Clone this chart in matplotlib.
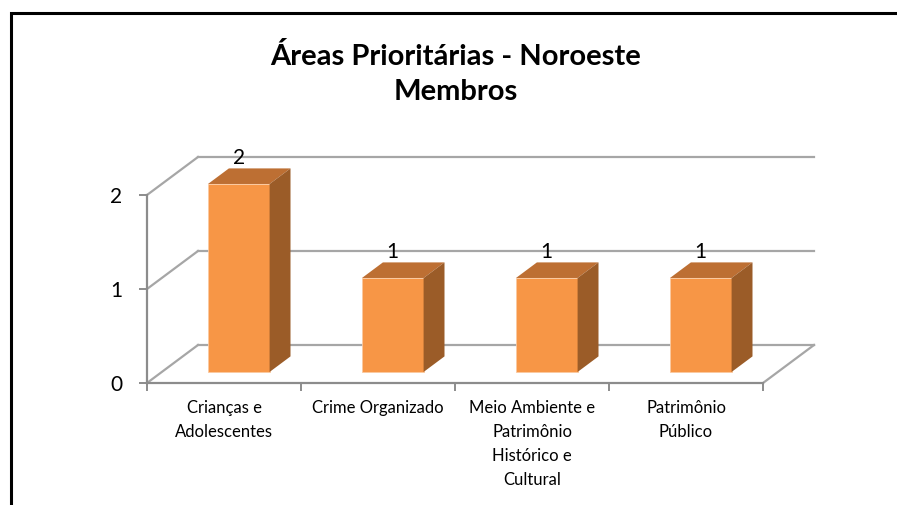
import matplotlib
matplotlib.use("Agg")
import matplotlib.pyplot as plt
from matplotlib.patches import Polygon
from matplotlib.lines import Line2D

# ---- data ----
categories = ["Crianças e\nAdolescentes", "Crime Organizado",
              "Meio Ambiente e\nPatrimônio\nHistórico e\nCultural", "Patrimônio\nPúblico"]
values = [2, 1, 1, 1]
y_ticks = [0, 1, 2]
title = "Áreas Prioritárias - Noroeste\nMembros"

# ---- layout ----
W, H = 897, 505
X0PX, PX_PER_CAT = 147, 154
Y0PX, PX_PER_VAL = 383, 94
DX = 51 / PX_PER_CAT        # full depth, category units
DY = 38 / PX_PER_VAL        # full depth, value units
D0, DD = 0.29, 0.41          # bar front depth fraction, bar depth fraction
BAR_W = 0.40
FONT = ["Lato", "DejaVu Sans"]
plt.rcParams["font.family"] = FONT

front = "#F79646"
top_c = "#BD6F33"
side_c = "#9B5C28"
grid_c = "#A6A6A6"
axis_c = "#8C8C8C"

fig = plt.figure(figsize=(W / 100, H / 100), dpi=100)
ax = fig.add_axes([0, 0, 1, 1])
ax.set_facecolor("white")
ax.set_xlim(-0.5 - X0PX / PX_PER_CAT, -0.5 + (W - X0PX) / PX_PER_CAT)
ax.set_ylim(-(H - Y0PX) / PX_PER_VAL, Y0PX / PX_PER_VAL)

n = len(categories)
xl_front, xr_front = -0.5, n - 0.5
ymax = max(y_ticks)

# back wall gridlines and left wall diagonals
for v in y_ticks:
    ax.plot([xl_front + DX, xr_front + DX], [v + DY, v + DY], color=grid_c, lw=1.6, zorder=1)
    ax.plot([xl_front, xl_front + DX], [v, v + DY], color=grid_c, lw=1.6, zorder=1)
# floor right edge
ax.plot([xr_front, xr_front + DX], [0, DY], color=grid_c, lw=1.6, zorder=1)

# spines as front axes
for s in ["top", "right"]:
    ax.spines[s].set_visible(False)
ax.spines["left"].set_position(("data", xl_front))
ax.spines["left"].set_bounds(0, ymax)
ax.spines["bottom"].set_position(("data", 0))
ax.spines["bottom"].set_bounds(xl_front, xr_front)
for s in ["left", "bottom"]:
    ax.spines[s].set_color(axis_c)
    ax.spines[s].set_linewidth(1.6)

ax.set_yticks(y_ticks)
ax.set_yticklabels([str(t) for t in y_ticks])
ax.tick_params(axis="y", direction="out", length=6, width=1.4, color=axis_c,
               labelsize=15, pad=12, labelcolor="black")
ax.set_xticks([i - 0.5 for i in range(n + 1)])
ax.set_xticklabels([])
ax.set_xticks(list(range(n)), minor=True)
ax.set_xticklabels(categories, minor=True)
ax.tick_params(axis="x", which="major", direction="out", length=6, width=1.4, color=axis_c)
ax.tick_params(axis="x", which="minor", length=0, labelsize=12, pad=12)
for lab in ax.get_xticklabels(minor=True):
    lab.set_multialignment("center")
    lab.set_linespacing(1.62)

# bars
xs = [i + D0 * DX for i in range(n)]
b0 = D0 * DY
ax.bar(xs, values, width=BAR_W, bottom=b0, color=front, edgecolor="#FBC9A0",
       linewidth=0.6, zorder=3)
for x, v in zip(xs, values):
    xl, xr = x - BAR_W / 2, x + BAR_W / 2
    t = v + b0
    ax.add_patch(Polygon([(xl, t), (xr, t), (xr + DD * DX, t + DD * DY), (xl + DD * DX, t + DD * DY)],
                         closed=True, facecolor=top_c, edgecolor="none", zorder=3))
    ax.add_patch(Polygon([(xr, b0), (xr + DD * DX, b0 + DD * DY), (xr + DD * DX, t + DD * DY), (xr, t)],
                         closed=True, facecolor=side_c, edgecolor="none", zorder=3))
    ax.text(x, t + DD * DY, str(v), ha="center", va="bottom", fontsize=15, zorder=4)

# title
fig.text(456 / W, 1 - 74 / H, title, ha="center", va="center", fontsize=21,
         fontweight="bold", linespacing=1.45)

# outer frame (left and top edges; right/bottom lie outside the picture)
fig.add_artist(Line2D([10.5 / W, 10.5 / W, 1.0], [0.0, 1 - 12.5 / H, 1 - 12.5 / H],
                      transform=fig.transFigure, color="black", linewidth=2.2,
                      solid_joinstyle="miter", solid_capstyle="butt"))

fig.savefig("out.png", dpi=100)
